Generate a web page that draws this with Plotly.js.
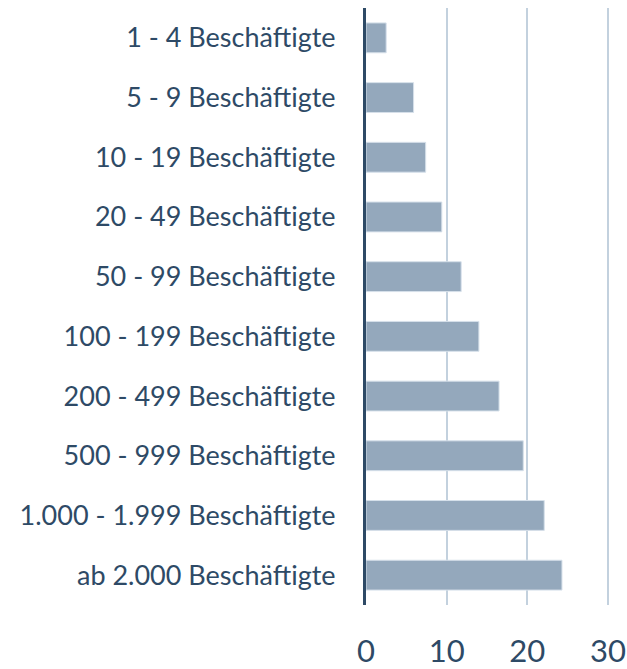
<!DOCTYPE html>
<html>
<head>
<meta charset="utf-8">
<script src="https://cdn.plot.ly/plotly-3.0.1.min.js"></script>
<style>html,body{margin:0;padding:0;background:#fff;}#chart{width:627px;height:669px;}</style>
</head>
<body>
<div id="chart"></div>
<script>
const categories = [
  "1 - 4 Beschäftigte",
  "5 - 9 Beschäftigte",
  "10 - 19 Beschäftigte",
  "20 - 49 Beschäftigte",
  "50 - 99 Beschäftigte",
  "100 - 199 Beschäftigte",
  "200 - 499 Beschäftigte",
  "500 - 999 Beschäftigte",
  "1.000 - 1.999 Beschäftigte",
  "ab 2.000 Beschäftigte"
];
const values = [2.5, 5.9, 7.4, 9.4, 11.8, 14.0, 16.5, 19.5, 22.1, 24.3];
const xTicks = [0, 10, 20, 30];

const textColor = "#2E4A66";

const data = [{
  type: "bar",
  orientation: "h",
  x: values,
  y: categories,
  marker: {color: "#94A8BC", line: {color: "#D6E0EA", width: 1}},
  hoverinfo: "skip"
}];

const layout = {
  width: 627,
  height: 669,
  margin: {l: 366, r: 11, t: 8, b: 64},
  paper_bgcolor: "#ffffff",
  plot_bgcolor: "#ffffff",
  showlegend: false,
  bargap: 0.5,
  font: {family: "Lato, 'Open Sans', sans-serif", color: textColor},
  xaxis: {
    range: [0, 31],
    tickvals: xTicks,
    ticktext: xTicks.map(String),
    showgrid: true,
    gridcolor: "#C3D1DE",
    gridwidth: 2,
    zeroline: false,
    showline: false,
    ticks: "",
    ticklabelstandoff: 25,
    tickfont: {size: 31, color: textColor}
  },
  yaxis: {
    type: "category",
    categoryorder: "array",
    categoryarray: categories,
    autorange: "reversed",
    showline: true,
    linecolor: "#2E4A66",
    linewidth: 3,
    showgrid: false,
    zeroline: false,
    ticks: "",
    ticklabelstandoff: 22,
    tickfont: {size: 27, color: textColor}
  }
};

Plotly.newPlot("chart", data, layout, {displayModeBar: false, staticPlot: true});
</script>
</body>
</html>
